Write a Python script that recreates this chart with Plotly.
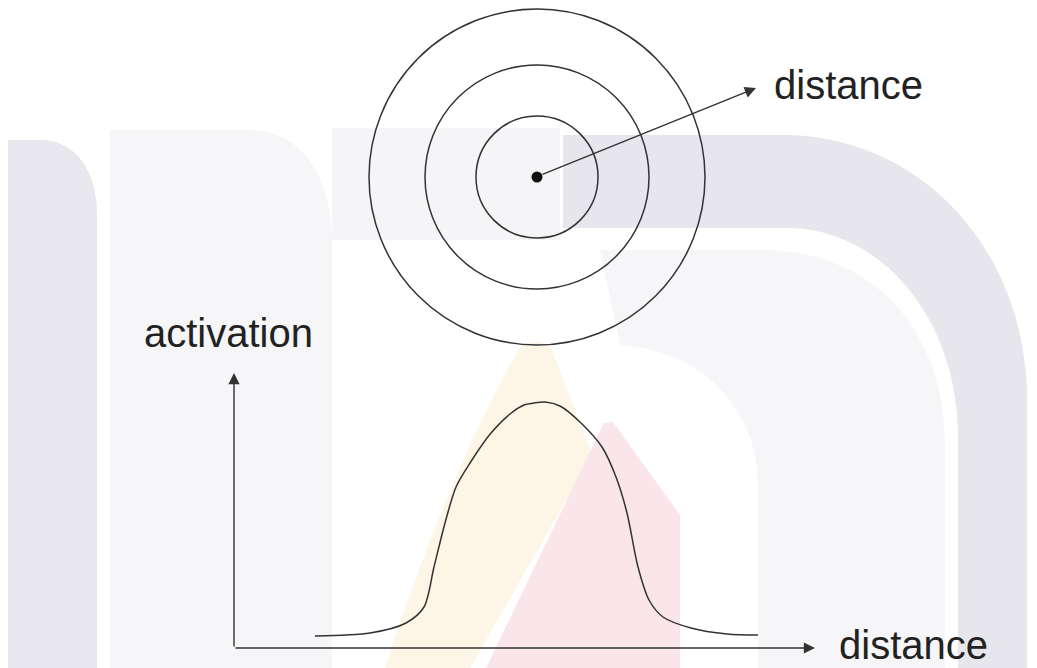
import plotly.graph_objects as go

# ---- data (diagram coordinates, pixel-like units) ----
center = [537, 177]
ring_radii = [61, 112, 168]
dist_arrow_tip = [756, 88]

axis_origin = [234, 648]
y_axis_tip = 373
x_axis_tip = 815

curve_x = [315, 370, 406, 424, 434, 445, 456, 470, 491, 510, 524, 534, 545, 560,
           581, 602, 616, 627, 638, 649, 663, 691, 727, 758]
curve_y = [636, 633, 623, 607, 567, 523, 487, 463, 433, 414, 405, 403, 402, 406,
           423, 447, 477, 513, 567, 600, 617, 628, 634, 635]

labels = {"top": "distance", "y": "activation", "x": "distance"}

FONT = "Liberation Sans, Arial, Helvetica, sans-serif"
INK = "#333333"

# the page body adds an 8px offset; the view window starts at (8, 8)
PAGE_OFFSET = 8
VIEW_W, VIEW_H = 1037, 668

fig = go.Figure()

# ---- faint watermark background ----
wm = [
    ("#e7e7ed", "M 8 668 V 140 H 40 C 75 140 97 170 97 215 V 668 Z"),
    ("#f6f6f8", "M 110 668 V 130 H 250 C 300 132 330 170 332 240 V 668 Z"),
    ("#f5f5f7", "M 332 128 H 560 V 240 H 332 Z"),
    ("#e6e6ec", "M 563 135 H 790 C 925 140 1022 250 1027 390 V 668 H 958 V 430 "
                "C 955 315 880 230 790 228 H 563 Z"),
    ("#f6f6f9", "M 600 250 H 770 C 880 255 943 335 945 440 V 668 H 758 V 480 "
                "C 755 405 700 350 620 345 Z"),
    ("#fdf5e6", "M 522 345 C 530 340 545 340 552 350 L 592 455 L 470 668 H 385 "
                "C 420 560 470 430 522 345 Z"),
    ("#f9e5ea", "M 604 423 L 613 422 L 680 515 V 668 H 486 Z"),
]
shapes = [dict(type="path", path=p, fillcolor=c, line=dict(width=0), layer="below",
               xref="x", yref="y") for c, p in wm]

# ---- concentric rings ----
for r in ring_radii:
    shapes.append(dict(type="circle", xref="x", yref="y",
                       x0=center[0] - r, x1=center[0] + r,
                       y0=center[1] - r, y1=center[1] + r,
                       line=dict(color=INK, width=1.5)))

# center dot
fig.add_trace(go.Scatter(x=[center[0]], y=[center[1]], mode="markers",
                         marker=dict(size=11, color="#111111"),
                         hoverinfo="skip", showlegend=False))

# activation curve
fig.add_trace(go.Scatter(x=curve_x, y=curve_y, mode="lines",
                         line=dict(color=INK, width=1.5, shape="spline", smoothing=0.8),
                         hoverinfo="skip", showlegend=False))

arrow_common = dict(xref="x", yref="y", axref="x", ayref="y", text="",
                    showarrow=True, arrowhead=2, arrowsize=1.6, arrowwidth=1.4,
                    arrowcolor=INK)
annotations = [
    dict(x=dist_arrow_tip[0], y=dist_arrow_tip[1], ax=center[0] + 4, ay=center[1] - 2,
         **arrow_common),
    dict(x=axis_origin[0], y=y_axis_tip, ax=axis_origin[0], ay=axis_origin[1],
         **arrow_common),
    dict(x=x_axis_tip, y=axis_origin[1], ax=axis_origin[0], ay=axis_origin[1],
         **arrow_common),
]

text_font = dict(family=FONT, size=40, color="#222222")
annotations += [
    dict(x=772, y=85, xref="x", yref="y", text=labels["top"], showarrow=False,
         xanchor="left", yanchor="middle", font=text_font),
    dict(x=142, y=333, xref="x", yref="y", text=labels["y"], showarrow=False,
         xanchor="left", yanchor="middle", font=text_font),
    dict(x=837, y=668, xref="x", yref="y", text=labels["x"], showarrow=False,
         xanchor="left", yanchor="bottom", yshift=-1, font=text_font),
]

fig.update_layout(
    width=VIEW_W - PAGE_OFFSET, height=VIEW_H - PAGE_OFFSET,
    margin=dict(l=0, r=0, t=0, b=0),
    paper_bgcolor="white", plot_bgcolor="white",
    shapes=shapes, annotations=annotations,
    xaxis=dict(range=[PAGE_OFFSET, VIEW_W], visible=False, fixedrange=True),
    yaxis=dict(range=[VIEW_H, PAGE_OFFSET], visible=False, fixedrange=True),
    showlegend=False,
)

fig.write_html("out.html", config={"displayModeBar": False})
